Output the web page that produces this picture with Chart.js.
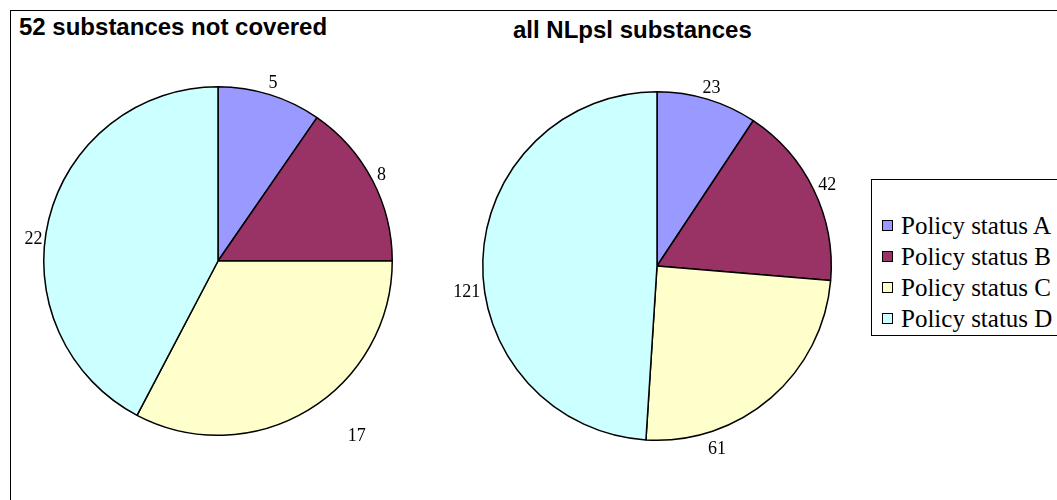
<!DOCTYPE html>
<html>
<head>
<meta charset="utf-8">
<script src="https://cdn.jsdelivr.net/npm/chart.js@4/dist/chart.umd.min.js"></script>
<style>
  html, body { margin: 0; padding: 0; background: #fff; width: 1057px; height: 500px; overflow: hidden; }
  .frame { position: absolute; left: 10px; top: 10px; width: 1100px; height: 600px; border: 1px solid #000; box-sizing: border-box; }
  .titulo { position: absolute; font-family: "Liberation Sans", Arial, sans-serif; font-weight: bold; font-size: 24px; line-height: 24px; color: #000; white-space: nowrap; }
  canvas { position: absolute; }
  .leyenda { position: absolute; left: 871px; top: 179px; width: 250px; height: 157px; border: 1px solid #000; box-sizing: border-box; background: #fff; }
  .item { position: absolute; left: 10px; display: flex; align-items: center; height: 25px; font-family: "Liberation Serif", "Times New Roman", serif; font-size: 25px; line-height: 25px; color: #000; white-space: nowrap; }
  .item span.caja { display: inline-block; width: 9px; height: 9px; border: 1.5px solid #000; margin-right: 8px; }
</style>
</head>
<body>
<div class="frame"></div>
<div class="titulo" style="left:19px; top:15px;">52 substances not covered</div>
<div class="titulo" style="left:513px; top:18px;">all NLpsl substances</div>
<canvas id="pie1" width="480" height="480" style="left:-22px; top:21px;"></canvas>
<canvas id="pie2" width="480" height="480" style="left:417px; top:26px;"></canvas>
<div class="leyenda" id="leyenda"></div>

<script>
// Datos
const categorias = ['Policy status A', 'Policy status B', 'Policy status C', 'Policy status D'];
const noCubiertas = [5, 8, 17, 22];
const todasNLpsl = [23, 42, 61, 121];
const colores = ['#9999FF', '#993366', '#FFFFCC', '#CCFFFF'];

// Etiquetas de valor fuera del sector, al estilo Excel.
// "ajustes": [ángulo en grados desde arriba, distancia al centro] cuando Excel no usa el punto medio
const etiquetasFuera = {
    id: 'etiquetasFuera',
    afterDatasetsDraw(chart, args, opts) {
        const ctx = chart.ctx;
        const meta = chart.getDatasetMeta(0);
        const valores = chart.data.datasets[0].data;
        const ajustes = opts.ajustes || [];
        ctx.save();
        ctx.font = '18px "Liberation Serif", "Times New Roman", serif';
        ctx.fillStyle = '#000';
        ctx.textAlign = 'center';
        ctx.textBaseline = 'middle';
        meta.data.forEach((arc, i) => {
            const p = arc.getProps(['x', 'y', 'startAngle', 'endAngle', 'outerRadius'], true);
            const texto = String(valores[i]);
            const w = ctx.measureText(texto).width;
            const h = 13;
            let x, y;
            const aj = ajustes[i];
            if (aj) {
                const ang = (aj[0] - 90) * Math.PI / 180;
                x = p.x + Math.cos(ang) * aj[1];
                y = p.y + Math.sin(ang) * aj[1];
            } else {
                const medio = (p.startAngle + p.endAngle) / 2;
                const cos = Math.cos(medio);
                const sin = Math.sin(medio);
                const r = p.outerRadius + 6;
                x = p.x + cos * r + cos * w / 2;
                y = p.y + sin * r + sin * h / 2;
            }
            ctx.fillText(texto, x, y + 1);
        });
        ctx.restore();
    }
};

function crearPie(id, datos, ajustes) {
    const ctx = document.getElementById(id).getContext('2d');
    return new Chart(ctx, {
        type: 'pie',
        data: {
            labels: categorias,
            datasets: [{
                data: datos,
                backgroundColor: colores,
                borderColor: '#000',
                borderWidth: 1.5
            }]
        },
        options: {
            responsive: false,
            animation: false,
            layout: { padding: 65 },
            plugins: {
                legend: { display: false },
                tooltip: { enabled: false },
                etiquetasFuera: { ajustes: ajustes }
            }
        },
        plugins: [etiquetasFuera]
    });
}

crearPie('pie1', noCubiertas, [null, null, [141.5, 223], [277, 186]]);
crearPie('pie2', todasNLpsl, [null, null, [161.8, 192], [262.5, 192]]);

// Leyenda
const leyenda = document.getElementById('leyenda');
categorias.forEach((nombre, i) => {
    const fila = document.createElement('div');
    fila.className = 'item';
    fila.style.top = (33 + i * 31) + 'px';
    fila.innerHTML = `<span class="caja" style="background:${colores[i]}"></span>${nombre}`;
    leyenda.appendChild(fila);
});
</script>
</body>
</html>
